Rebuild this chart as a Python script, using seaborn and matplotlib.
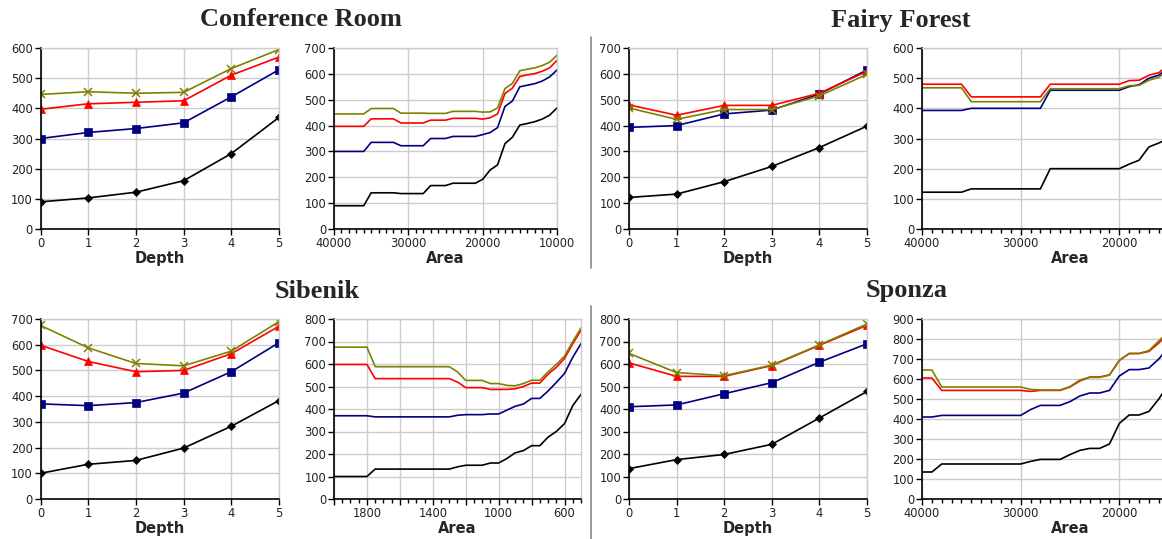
import numpy as np
import pandas as pd
import matplotlib
matplotlib.use("Agg")
import matplotlib.pyplot as plt
from matplotlib.lines import Line2D
from matplotlib.ticker import MultipleLocator, FixedLocator, FuncFormatter
import seaborn as sns

# ---------------- data ----------------
depth = [0, 1, 2, 3, 4, 5]

conf_depth_black = [90, 103, 122, 160, 250, 370]
conf_depth_navy = [300, 320, 333, 352, 438, 528]
conf_depth_red = [397, 415, 420, 425, 510, 570]
conf_depth_olive = [446, 455, 450, 453, 532, 595]

conf_area = [40000, 39000, 38000, 37000, 36000, 35000, 34000, 33000, 32000, 31000,
             30000, 29000, 28000, 27000, 26000, 25000, 24000, 23000, 22000, 21000,
             20000, 19000, 18000, 17000, 16000, 15000, 14000, 13000, 12000, 11000, 10000]
conf_area_black = [90, 90, 90, 90, 90, 140, 140, 140, 140, 137,
                   137, 137, 137, 168, 168, 168, 177, 177, 177, 177,
                   192, 228, 248, 330, 355, 402, 408, 415, 425, 440, 468]
conf_area_navy = [300, 300, 300, 300, 300, 335, 335, 335, 335, 322,
                  322, 322, 322, 350, 350, 350, 358, 358, 358, 358,
                  365, 373, 392, 474, 495, 550, 556, 562, 572, 588, 615]
conf_area_red = [397, 397, 397, 397, 397, 426, 426, 426, 426, 410,
                 410, 410, 410, 421, 421, 421, 428, 428, 428, 428,
                 425, 430, 445, 524, 545, 590, 596, 601, 610, 623, 652]
conf_area_olive = [445, 445, 445, 445, 445, 466, 466, 466, 466, 448,
                   448, 448, 448, 447, 447, 447, 455, 455, 455, 455,
                   452, 453, 468, 543, 563, 612, 618, 623, 632, 645, 672]

fairy_depth_black = [122, 135, 183, 242, 315, 398]
fairy_depth_navy = [393, 400, 445, 460, 522, 615]
fairy_depth_red = [480, 440, 478, 478, 525, 610]
fairy_depth_olive = [468, 424, 462, 462, 515, 598]

fairy_area = [40000, 39000, 38000, 37000, 36000, 35000, 34000, 33000, 32000, 31000,
              30000, 29000, 28000, 27000, 26000, 25000, 24000, 23000, 22000, 21000,
              20000, 19000, 18000, 17000, 16000, 15000]
fairy_area_black = [122, 122, 122, 122, 122, 133, 133, 133, 133, 133,
                    133, 133, 133, 200, 200, 200, 200, 200, 200, 200,
                    200, 215, 228, 272, 285, 300]
fairy_area_navy = [393, 393, 393, 393, 393, 400, 400, 400, 400, 400,
                   400, 400, 400, 460, 460, 460, 460, 460, 460, 460,
                   460, 472, 478, 500, 510, 535]
fairy_area_red = [480, 480, 480, 480, 480, 438, 438, 438, 438, 438,
                  438, 438, 438, 480, 480, 480, 480, 480, 480, 480,
                  480, 492, 493, 510, 518, 545]
fairy_area_olive = [468, 468, 468, 468, 468, 422, 422, 422, 422, 422,
                    422, 422, 422, 465, 465, 465, 465, 465, 465, 465,
                    465, 475, 476, 493, 503, 528]

sib_depth_black = [100, 135, 150, 198, 283, 383]
sib_depth_navy = [370, 363, 375, 412, 495, 608]
sib_depth_red = [598, 535, 495, 500, 565, 672]
sib_depth_olive = [675, 588, 527, 518, 575, 690]

sib_area = [2000, 1950, 1900, 1850, 1800, 1750, 1700, 1650, 1600, 1550,
            1500, 1450, 1400, 1350, 1300, 1250, 1200, 1150, 1100, 1050,
            1000, 950, 900, 850, 800, 750, 700, 650, 600, 550, 500]
sib_area_black = [100, 100, 100, 100, 100, 133, 133, 133, 133, 133,
                  133, 133, 133, 133, 133, 143, 150, 150, 150, 160,
                  160, 180, 205, 215, 237, 237, 275, 300, 335, 415, 465]
sib_area_navy = [370, 370, 370, 370, 370, 365, 365, 365, 365, 365,
                 365, 365, 365, 365, 365, 372, 375, 375, 375, 378,
                 378, 395, 412, 422, 447, 447, 480, 518, 558, 630, 690]
sib_area_red = [598, 598, 598, 598, 598, 535, 535, 535, 535, 535,
                535, 535, 535, 535, 535, 520, 495, 495, 495, 487,
                487, 487, 490, 500, 515, 515, 555, 585, 625, 690, 750]
sib_area_olive = [675, 675, 675, 675, 675, 588, 588, 588, 588, 588,
                  588, 588, 588, 588, 588, 565, 527, 527, 527, 513,
                  513, 505, 503, 513, 528, 528, 565, 598, 635, 700, 760]

sp_depth_black = [135, 175, 198, 243, 360, 478]
sp_depth_navy = [410, 418, 468, 517, 608, 690]
sp_depth_red = [605, 545, 545, 593, 683, 772]
sp_depth_olive = [647, 562, 548, 595, 685, 778]

sp_area = [40000, 39000, 38000, 37000, 36000, 35000, 34000, 33000, 32000, 31000,
           30000, 29000, 28000, 27000, 26000, 25000, 24000, 23000, 22000, 21000,
           20000, 19000, 18000, 17000, 16000, 15000]
sp_area_black = [135, 135, 175, 175, 175, 175, 175, 175, 175, 175,
                 175, 188, 198, 198, 198, 222, 243, 253, 253, 275,
                 378, 420, 420, 438, 500, 575]
sp_area_navy = [410, 410, 418, 418, 418, 418, 418, 418, 418, 418,
                418, 447, 468, 468, 468, 487, 515, 530, 530, 543,
                615, 647, 647, 655, 700, 760]
sp_area_red = [605, 605, 543, 543, 543, 543, 543, 543, 543, 543,
               543, 538, 543, 543, 543, 560, 590, 610, 610, 620,
               693, 727, 727, 738, 780, 830]
sp_area_olive = [645, 645, 560, 560, 560, 560, 560, 560, 560, 560,
                 560, 548, 545, 545, 545, 562, 595, 608, 608, 620,
                 693, 728, 728, 742, 790, 840]

titles = ["Conference Room", "Fairy Forest", "Sibenik", "Sponza"]

# ---------------- style ----------------
sns.set_style("whitegrid", {"xtick.bottom": True, "ytick.left": True})
plt.rcParams["font.family"] = ["DejaVu Sans"]
plt.rcParams["xtick.major.size"] = 4
plt.rcParams["xtick.minor.size"] = 3
plt.rcParams["ytick.major.size"] = 4
plt.rcParams["xtick.color"] = "#000000"
plt.rcParams["ytick.color"] = "#000000"

W, H = 1162, 539
fig = plt.figure(figsize=(W / 100, H / 100), dpi=100)

COLORS = {"black": "#000000", "navy": "#000080", "red": "#ff0000", "olive": "#808000"}
MARKERS = {"black": ("D", 4.0), "navy": ("s", 5.5), "red": ("^", 6.0), "olive": ("x", 6.0)}
GRID = "#cccccc"


def add_ax(left, top, width, height):
    return fig.add_axes([left / W, 1 - (top + height) / H, width / W, height / H])


def style(ax, ymax, xlabel):
    ax.set_ylim(0, ymax)
    ax.yaxis.set_major_locator(MultipleLocator(100))
    ax.grid(True, which="major", color=GRID, linewidth=1.0)
    ax.grid(False, which="minor")
    for s in ["left", "bottom"]:
        ax.spines[s].set_color("#000000")
        ax.spines[s].set_linewidth(1.2)
    for s in ["top", "right"]:
        ax.spines[s].set_color(GRID)
        ax.spines[s].set_linewidth(1.0)
    ax.tick_params(axis="both", which="both", bottom=True, left=True, top=False, right=False)
    ax.tick_params(axis="both", which="major", direction="out", length=4, width=1,
                   labelsize=8.3, color="#000000", pad=1.5, labelcolor="#222222")
    ax.tick_params(axis="x", which="minor", direction="out", length=3, width=1, color="#000000")
    ax.set_xlabel(xlabel, fontsize=10.5, fontweight="bold", labelpad=1)
    ax.set_ylabel("")
    ax.set_facecolor("white")


def draw_depth(ax, b, n, r, o, ymax):
    for key, vals in [("black", b), ("navy", n), ("red", r), ("olive", o)]:
        m, ms = MARKERS[key]
        sns.lineplot(x=depth, y=vals, ax=ax, color=COLORS[key], marker=m, markersize=ms,
                     markeredgecolor=COLORS[key], markeredgewidth=1.1 if m == "x" else 0.5,
                     linewidth=1.2, legend=False)
    ax.set_xlim(0, 5)
    ax.xaxis.set_major_locator(MultipleLocator(1))
    style(ax, ymax, "Depth")


def draw_area(ax, x, b, n, r, o, ymax):
    for key, vals in [("black", b), ("navy", n), ("red", r), ("olive", o)]:
        sns.lineplot(x=x, y=vals, ax=ax, color=COLORS[key], linewidth=1.2, legend=False)
    style(ax, ymax, "Area")


# Conference Room
ax1 = add_ax(40.5, 48, 238.5, 181)
draw_depth(ax1, conf_depth_black, conf_depth_navy, conf_depth_red, conf_depth_olive, 600)
ax2 = add_ax(334, 48, 223, 181)
draw_area(ax2, conf_area, conf_area_black, conf_area_navy, conf_area_red, conf_area_olive, 700)
ax2.set_xlim(40000, 10000)
ax2.xaxis.set_major_locator(MultipleLocator(10000))
ax2.xaxis.set_minor_locator(MultipleLocator(1000))

# Fairy Forest
ax3 = add_ax(629, 48, 238, 181)
draw_depth(ax3, fairy_depth_black, fairy_depth_navy, fairy_depth_red, fairy_depth_olive, 700)
ax4 = add_ax(922, 48, 296, 181)
draw_area(ax4, fairy_area, fairy_area_black, fairy_area_navy, fairy_area_red, fairy_area_olive, 600)
ax4.set_xlim(40000, 10000)
ax4.xaxis.set_major_locator(FixedLocator([40000, 30000, 20000]))
ax4.xaxis.set_minor_locator(MultipleLocator(1000))

# Sibenik
ax5 = add_ax(40.5, 319, 238.5, 180)
draw_depth(ax5, sib_depth_black, sib_depth_navy, sib_depth_red, sib_depth_olive, 700)
ax6 = add_ax(334, 319, 247, 180)
draw_area(ax6, sib_area, sib_area_black, sib_area_navy, sib_area_red, sib_area_olive, 800)
ax6.set_xlim(2000, 500)
ax6.xaxis.set_major_locator(MultipleLocator(200))
ax6.xaxis.set_minor_locator(MultipleLocator(50))
ax6.xaxis.set_major_formatter(FuncFormatter(lambda v, p: f"{int(v)}" if int(round(v)) % 400 == 200 else ""))

# Sponza
ax7 = add_ax(629, 319, 238, 180)
draw_depth(ax7, sp_depth_black, sp_depth_navy, sp_depth_red, sp_depth_olive, 800)
ax8 = add_ax(922, 319, 296, 180)
draw_area(ax8, sp_area, sp_area_black, sp_area_navy, sp_area_red, sp_area_olive, 900)
ax8.set_xlim(40000, 10000)
ax8.xaxis.set_major_locator(FixedLocator([40000, 30000, 20000]))
ax8.xaxis.set_minor_locator(MultipleLocator(1000))

# titles
title_pos = [(301, 20), (901, 20), (317, 291), (907, 291)]
for t, (x, y) in zip(titles, title_pos):
    fig.text(x / W, 1 - y / H, t, ha="center", va="center", fontsize=19,
             fontweight="bold", family=["Liberation Serif", "DejaVu Serif"])

# separators
fig.add_artist(Line2D([591 / W, 591 / W], [1 - 37 / H, 1 - 268 / H], color="#888888", linewidth=1.2))
fig.add_artist(Line2D([591 / W, 591 / W], [1 - 306 / H, 0], color="#888888", linewidth=1.2))

fig.savefig("out.png", dpi=100, facecolor="white")
